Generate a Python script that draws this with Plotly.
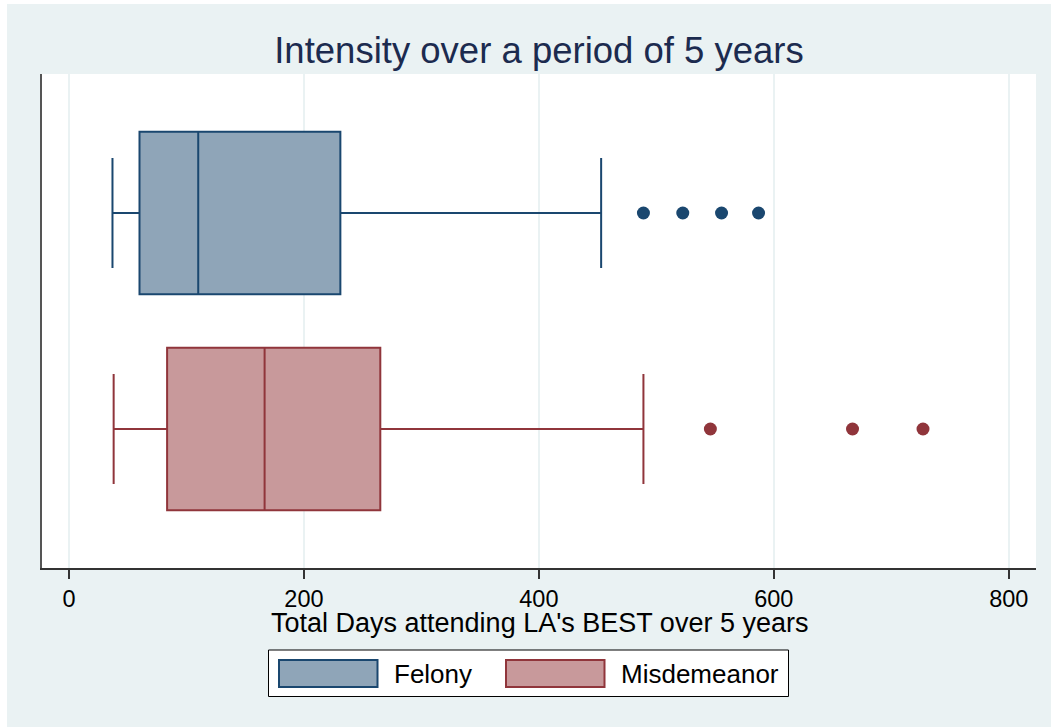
import plotly.graph_objects as go

# ---- data ----
groups = ["Felony", "Misdemeanor"]
lower_whisker = [37, 38]
q1_vals = [60, 83.5]
median_vals = [110, 166.5]
q3_vals = [231, 265]
upper_whisker = [453, 489]
outliers_felony = [489, 522.5, 555.5, 587]
outliers_misd = [546, 667, 727]
x_ticks = [0, 200, 400, 600, 800]

line_colors = ["#1a476f", "#90353b"]
fill_colors = ["#8fa5b8", "#c8999b"]
y_pos = [1, 0]

W, H = 1051, 727
L, R, T, B = 42, 15, 74, 159
PW, PH = W - L - R, H - T - B


def px(x):
    return (x - L) / PW


def py(y):
    return (H - B - y) / PH


fig = go.Figure()
for i, g in enumerate(groups):
    fig.add_trace(go.Box(
        name=g, orientation="h", y=[y_pos[i]],
        q1=[q1_vals[i]], median=[median_vals[i]], q3=[q3_vals[i]],
        lowerfence=[lower_whisker[i]], upperfence=[upper_whisker[i]],
        width=0.753, whiskerwidth=0.675,
        fillcolor=fill_colors[i], line=dict(color=line_colors[i], width=2),
        showlegend=False, hoverinfo="x",
    ))

for vals, yp, col in [(outliers_felony, y_pos[0], line_colors[0]),
                      (outliers_misd, y_pos[1], line_colors[1])]:
    fig.add_trace(go.Scatter(
        x=vals, y=[yp] * len(vals), mode="markers",
        marker=dict(color=col, size=13, line=dict(width=0)),
        showlegend=False,
    ))

shapes = [
    dict(type="rect", xref="paper", yref="paper", layer="below",
         x0=px(7), x1=px(W + 2), y0=py(4), y1=py(H + 2),
         fillcolor="#eaf2f3", line=dict(width=0)),
    dict(type="rect", xref="paper", yref="paper", layer="below",
         x0=0, x1=1, y0=0, y1=1, fillcolor="white", line=dict(width=0)),
    # legend frame
    dict(type="rect", xref="paper", yref="paper",
         x0=px(268.5), x1=px(788.5), y0=py(650), y1=py(696.5),
         fillcolor="white", line=dict(color="black", width=1)),
    dict(type="rect", xref="paper", yref="paper",
         x0=px(279), x1=px(377.5), y0=py(660), y1=py(687),
         fillcolor=fill_colors[0], line=dict(color=line_colors[0], width=2)),
    dict(type="rect", xref="paper", yref="paper",
         x0=px(506), x1=px(604.5), y0=py(660), y1=py(687),
         fillcolor=fill_colors[1], line=dict(color=line_colors[1], width=2)),
]

annotations = [
    dict(text="Total Days attending LA's BEST over 5 years", xref="paper", yref="paper",
         x=px(539), y=py(623), xanchor="center", yanchor="middle", showarrow=False,
         font=dict(size=27, color="black")),
    dict(text=groups[0], xref="paper", yref="paper", x=px(392), y=py(673.5),
         xanchor="left", yanchor="middle", showarrow=False, font=dict(size=26, color="black")),
    dict(text=groups[1], xref="paper", yref="paper", x=px(618.5), y=py(673.5),
         xanchor="left", yanchor="middle", showarrow=False, font=dict(size=26, color="black")),
]

fig.update_layout(
    width=W, height=H,
    margin=dict(l=L, r=R, t=T, b=B, pad=0),
    paper_bgcolor="white", plot_bgcolor="rgba(0,0,0,0)",
    font=dict(family="Liberation Sans, Arial, sans-serif", color="black"),
    title=dict(text="Intensity over a period of 5 years", xref="paper", x=0.5, xanchor="center",
               y=1 - 50 / H, yanchor="middle", font=dict(size=36.5, color="#1c2b4f")),
    shapes=shapes, annotations=annotations,
    xaxis=dict(range=[-23, 823.2], tickvals=x_ticks, ticks="outside", ticklen=9,
               tickwidth=1.5, tickcolor="#333", showline=True, linecolor="#333", linewidth=1.5,
               showgrid=True, gridcolor="#eaf2f3", gridwidth=2, zeroline=False,
               tickfont=dict(size=23.5, color="black")),
    yaxis=dict(range=[-0.6435, 1.6435], showticklabels=False, ticks="", showgrid=False,
               zeroline=False, showline=True, linecolor="#555", linewidth=1.5),
)

fig.write_html("out.html")
